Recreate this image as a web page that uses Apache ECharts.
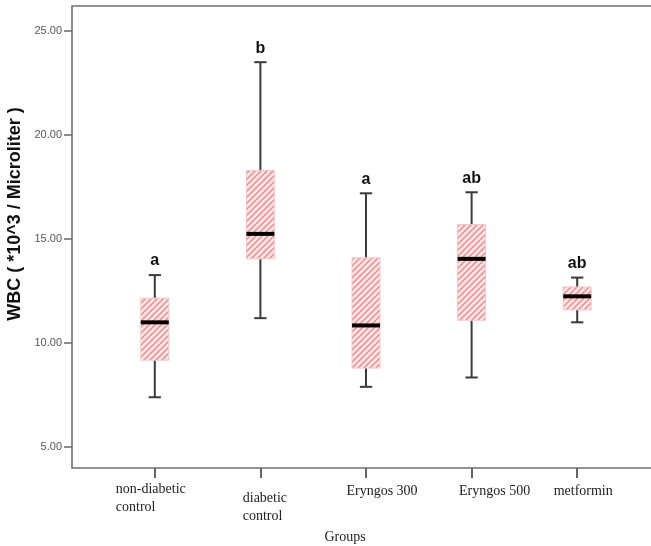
<!DOCTYPE html>
<html>
<head>
<meta charset="utf-8">
<script src="https://cdn.jsdelivr.net/npm/echarts@6/dist/echarts.min.js"></script>
<style>html,body{margin:0;padding:0;background:#fff;}#c{width:651px;height:546px;}</style>
</head>
<body>
<div id="c"></div>
<script>
// ---- data ----
const categories = ['non-diabetic\ncontrol', 'diabetic\ncontrol', 'Eryngos 300', 'Eryngos 500', 'metformin'];
const whiskerMin = [7.4, 11.2, 7.9, 8.35, 11.0];
const q1 = [9.18, 14.05, 8.8, 11.1, 11.6];
const median = [11.0, 15.25, 10.85, 14.05, 12.25];
const q3 = [12.16, 18.3, 14.1, 15.7, 12.7];
const whiskerMax = [13.27, 23.5, 17.2, 17.25, 13.15];
const letters = ['a', 'b', 'a', 'ab', 'ab'];
const yTicks = [5, 10, 15, 20, 25];

// label offsets (styling only)
const labelPad = [[0, 8, 0, 0], [9, 0, 0, 9], [2, 0, 0, 32], [2, 0, 0, 46], [2, 0, 0, 12]];

// hatch pattern
const pc = document.createElement('canvas');
pc.width = 6; pc.height = 6;
const g = pc.getContext('2d');
g.fillStyle = '#fde5e5'; g.fillRect(0, 0, 6, 6);
g.strokeStyle = '#ec8888'; g.lineWidth = 1.4;
g.beginPath();
g.moveTo(0, 6); g.lineTo(6, 0);
g.moveTo(-1, 1); g.lineTo(1, -1);
g.moveTo(5, 7); g.lineTo(7, 5);
g.stroke();

const boxData = categories.map((c, i) => [i, whiskerMin[i], q1[i], median[i], q3[i], whiskerMax[i]]);

function renderItem(params, api) {
  const i = api.value(0);
  const pMin = api.coord([i, api.value(1)]);
  const pQ1 = api.coord([i, api.value(2)]);
  const pMed = api.coord([i, api.value(3)]);
  const pQ3 = api.coord([i, api.value(4)]);
  const pMax = api.coord([i, api.value(5)]);
  const x = pMed[0];
  const band = api.size([1, 0])[0];
  const bw = band * 0.265;
  const cw = bw * 0.44;
  const lineStyle = { stroke: '#3a3a3a', lineWidth: 2 };
  return {
    type: 'group',
    children: [
      { type: 'line', shape: { x1: x, y1: pMax[1], x2: x, y2: pQ3[1] }, style: lineStyle },
      { type: 'line', shape: { x1: x, y1: pQ1[1], x2: x, y2: pMin[1] }, style: lineStyle },
      { type: 'line', shape: { x1: x - cw / 2, y1: pMax[1], x2: x + cw / 2, y2: pMax[1] }, style: lineStyle },
      { type: 'line', shape: { x1: x - cw / 2, y1: pMin[1], x2: x + cw / 2, y2: pMin[1] }, style: lineStyle },
      { type: 'rect', shape: { x: x - bw / 2, y: pQ3[1], width: bw, height: pQ1[1] - pQ3[1] },
        style: { fill: { image: pc, repeat: 'repeat' }, stroke: '#f6c6c6', lineWidth: 1 } },
      { type: 'line', shape: { x1: x - bw / 2, y1: pMed[1], x2: x + bw / 2, y2: pMed[1] }, style: { stroke: '#000', lineWidth: 4 } },
      { type: 'text', style: { text: letters[params.dataIndex], x: x, y: pMax[1] - 6, align: 'center', verticalAlign: 'bottom',
        font: 'bold 16px "Liberation Sans", Arial, sans-serif', fill: '#111' } }
    ]
  };
}

const chart = echarts.init(document.getElementById('c'));
chart.setOption({
  backgroundColor: '#fff',
  animation: false,
  grid: [
    { left: 72, top: 6, right: -12, bottom: 78, outerBoundsMode: 'none', containLabel: false,
      show: true, borderColor: '#707070', borderWidth: 1.6, backgroundColor: 'transparent' },
    { left: 102, top: 6, right: 21, bottom: 78, outerBoundsMode: 'none', containLabel: false }
  ],
  xAxis: [
    { gridIndex: 0, type: 'value', min: 0, max: 1, show: false },
    {
      gridIndex: 1, type: 'category',
      data: categories.map((c, i) => ({ value: c, textStyle: { padding: labelPad[i] } })),
      name: 'Groups', nameLocation: 'middle', nameGap: 55,
      nameTextStyle: { fontFamily: '"Liberation Serif", serif', fontSize: 14, color: '#222', padding: [0, 42, 0, 0] },
      axisLine: { show: false },
      axisTick: { show: true, alignWithLabel: true, length: 10, lineStyle: { color: '#666', width: 2 } },
      axisLabel: {
        interval: 0, margin: 12, fontFamily: '"Liberation Serif", serif', fontSize: 14, color: '#222', lineHeight: 18,
        formatter: v => v.split('\n').map(s => '{l|' + s + '}').join('\n'),
        rich: { l: { align: 'left', fontFamily: '"Liberation Serif", serif', fontSize: 14, color: '#222', lineHeight: 18 } }
      },
      splitLine: { show: false }
    }
  ],
  yAxis: [
    {
      gridIndex: 0, type: 'value', min: 4, max: 26.2,
      name: 'WBC ( *10^3 / Microliter )', nameLocation: 'middle', nameGap: 42,
      nameTextStyle: { fontFamily: '"Liberation Sans", Arial, sans-serif', fontWeight: 'bold', fontSize: 18, color: '#111', padding: [0, 0, 0, 46] },
      axisLine: { show: false },
      axisTick: { show: true, length: 8, customValues: yTicks, lineStyle: { color: '#666', width: 1.5 } },
      axisLabel: { customValues: yTicks, margin: 10, fontFamily: '"Liberation Sans", Arial, sans-serif', fontSize: 11, color: '#555',
        formatter: v => v.toFixed(2) },
      splitLine: { show: false }
    },
    { gridIndex: 1, type: 'value', min: 4, max: 26.2, show: false, splitLine: { show: false } }
  ],
  series: [
    {
      type: 'custom', xAxisIndex: 1, yAxisIndex: 1,
      renderItem: renderItem,
      encode: { x: 0, y: [1, 2, 3, 4, 5] },
      data: boxData,
      clip: false
    }
  ]
});
</script>
</body>
</html>
